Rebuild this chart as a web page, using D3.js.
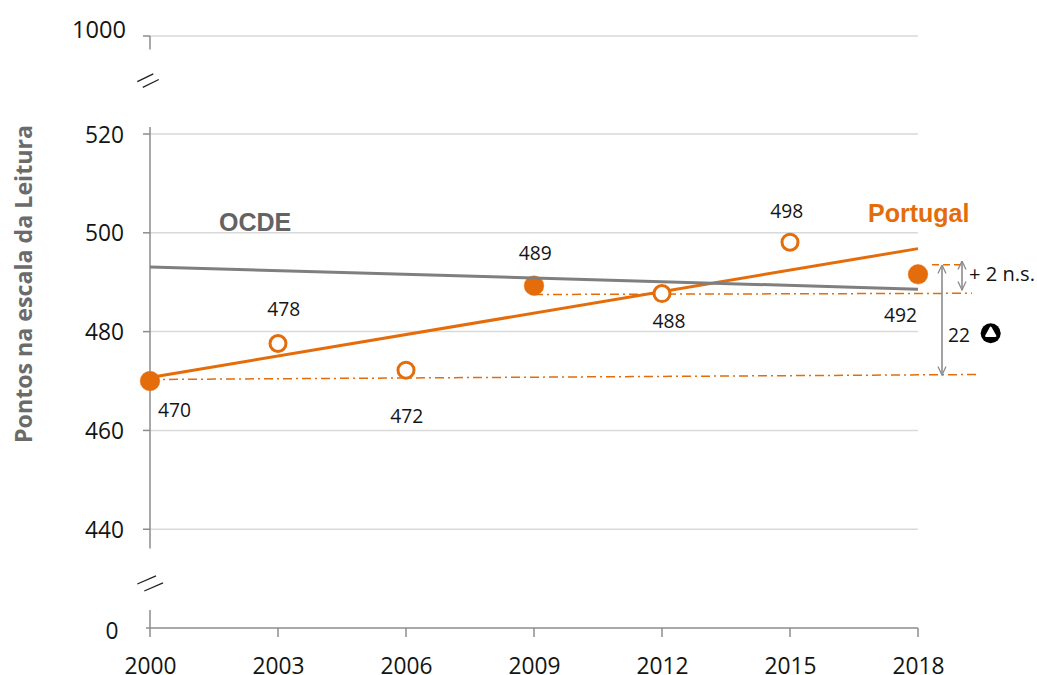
<!DOCTYPE html>
<html><head><meta charset="utf-8">
<script src="https://cdn.jsdelivr.net/npm/d3@7/dist/d3.min.js"></script>
<style>html,body{margin:0;background:#fff}svg{display:block}text{font-family:"Open Sans","Noto Sans",sans-serif;fill:#141414}</style>
</head><body><svg id="c" width="1037" height="675"></svg>
<script>
const years=[2000,2003,2006,2009,2012,2015,2018];
const portugal=[470,477.6,472.2,489.3,487.7,498.1,491.6];
const labels=["470","478","472","489","488","498","492"];
const significant=[true,false,false,true,false,false,true];
const trendYears=[2000,2018];
const portugalTrend=[470.7,496.8];
const oecdTrend=[493.1,488.6];
const yTicks=[0,440,460,480,500,520,1000];
const axisTitle="Pontos na escala da Leitura";
const diffLabels=["+ 2 n.s.","22"];
const orange="#e46c0a",gray="#7f7f7f",grid="#d9d9d9",axisC="#8c8c8c";
const svg=d3.select("#c");
const x=d3.scaleLinear().domain([2000,2018]).range([150,918]);
const y=d3.scaleLinear().domain([0,436,520,1000]).range([628,549,134,36]);
const defs=svg.append("defs");
defs.append("marker").attr("id","ah").attr("viewBox","0 0 10 10").attr("refX",9.5).attr("refY",5)
 .attr("markerWidth",10).attr("markerHeight",10).attr("markerUnits","userSpaceOnUse").attr("orient","auto-start-reverse")
 .append("path").attr("d","M1,1L9.5,5L1,9").attr("fill","none").attr("stroke","#8c8c8c").attr("stroke-width",1.3);
// grid
svg.append("g").selectAll("line").data(yTicks.filter(d=>d>0)).join("line")
 .attr("x1",150).attr("x2",918).attr("y1",d=>y(d)).attr("y2",d=>y(d)).attr("stroke",grid).attr("stroke-width",1.5);
// axis segments
const segs=[[36,49.5],[127,548.5],[610,637]];
svg.append("g").selectAll("line").data(segs).join("line").attr("x1",150).attr("x2",150)
 .attr("y1",d=>d[0]).attr("y2",d=>d[1]).attr("stroke",axisC).attr("stroke-width",1.5);
svg.append("g").selectAll("line").data(yTicks.filter(d=>d>0)).join("line")
 .attr("x1",143).attr("x2",150).attr("y1",d=>y(d)).attr("y2",d=>y(d)).attr("stroke",axisC).attr("stroke-width",1.5);
svg.append("line").attr("x1",146).attr("x2",918).attr("y1",y(0)).attr("y2",y(0)).attr("stroke",axisC).attr("stroke-width",1.5);
svg.append("g").selectAll("line").data(years.slice(1)).join("line").attr("x1",d=>x(d)).attr("x2",d=>x(d))
 .attr("y1",y(0)).attr("y2",637).attr("stroke",axisC).attr("stroke-width",1.5);
// tick labels
svg.append("g").selectAll("text").data(yTicks).join("text")
 .attr("x",d=>d===0?118.5:(d===1000?126:124)).attr("y",d=>y(d)+(d===1000?2:(d===0?10.5:8.5))).attr("text-anchor","end")
 .attr("font-size",24).attr("textLength",d=>d===1000?54:(d===0?13:39)).attr("lengthAdjust","spacingAndGlyphs").text(d=>d);
svg.append("g").selectAll("text").data(years).join("text").attr("x",d=>x(d)+0.5).attr("y",674)
 .attr("text-anchor","middle").attr("font-size",24).attr("textLength",52).attr("lengthAdjust","spacingAndGlyphs").text(d=>d);
// axis breaks
[[137.3,81.7,5.5,5.6,16,-7.8],[137.3,584,7,7,18.7,-8.2]].forEach(([a,b,ox,oy,dx,dy])=>{[0,1].forEach(k=>svg.append("line")
 .attr("x1",a+k*ox).attr("y1",b+k*oy).attr("x2",a+k*ox+dx).attr("y2",b+k*oy+dy).attr("stroke","#222").attr("stroke-width",1.3));});
// title
svg.append("text").attr("transform","translate(32,284) rotate(-90)").attr("text-anchor","middle")
 .attr("font-size",23).attr("font-weight",700).style("fill","#6b6b6b").attr("textLength",318).attr("lengthAdjust","spacingAndGlyphs").text(axisTitle);
// reference lines
svg.append("line").attr("x1",x(2009)).attr("y1",294.5).attr("x2",972).attr("y2",293.3).attr("stroke",orange).attr("stroke-width",1.5).attr("stroke-dasharray","9 4 2 4");
svg.append("line").attr("x1",x(2000)).attr("y1",379.5).attr("x2",980).attr("y2",374.5).attr("stroke",orange).attr("stroke-width",1.5).attr("stroke-dasharray","9 4 2 4");
svg.append("line").attr("x1",932).attr("y1",264.7).attr("x2",963).attr("y2",264.7).attr("stroke",orange).attr("stroke-width",1.5).attr("stroke-dasharray","7 4");
// trend + points
const line=d3.line().x(d=>x(d[0])).y(d=>y(d[1]));
svg.append("path").attr("d",line(d3.zip(trendYears,portugalTrend))).attr("fill","none").attr("stroke",orange).attr("stroke-width",3);
const pts=d3.zip(years,portugal,significant,labels);
svg.append("g").selectAll("circle").data(pts).join("circle").attr("cx",d=>x(d[0])).attr("cy",d=>y(d[1]))
 .attr("r",d=>d[2]?9.8:8).attr("fill",d=>d[2]?orange:"#fff").attr("stroke",orange).attr("stroke-width",d=>d[2]?0.5:3);
svg.append("path").attr("d",line(d3.zip(trendYears,oecdTrend))).attr("fill","none").attr("stroke",gray).attr("stroke-width",3);
// data labels
const off=[[24.5,36],[5.7,-27],[0.7,52.5],[1.3,-25.7],[7,34],[-3.3,-24],[-17.5,47.7]];
svg.append("g").selectAll("text").data(pts).join("text")
 .attr("x",(d,i)=>x(d[0])+off[i][0]).attr("y",(d,i)=>y(d[1])+off[i][1]).attr("text-anchor","middle")
 .attr("font-size",20.5).attr("textLength",33).attr("lengthAdjust","spacingAndGlyphs").text(d=>d[3]);
// arrows
[[942,265,375],[962,261,290]].forEach(([a,b,c])=>svg.append("line").attr("x1",a).attr("x2",a).attr("y1",b).attr("y2",c)
 .attr("stroke","#8c8c8c").attr("stroke-width",1.6).attr("marker-start","url(#ah)").attr("marker-end","url(#ah)"));
svg.append("text").attr("x",969).attr("y",281).attr("font-size",20).attr("textLength",66).attr("lengthAdjust","spacingAndGlyphs").text(diffLabels[0]);
svg.append("text").attr("x",948).attr("y",342).attr("font-size",20.5).attr("textLength",22).attr("lengthAdjust","spacingAndGlyphs").text(diffLabels[1]);
// significance marker
svg.append("circle").attr("cx",990.7).attr("cy",333.3).attr("r",10).attr("fill","#000");
svg.append("path").attr("d","M990.7,327.5L995.5,336L986,336Z").attr("fill","#fff").attr("stroke","#fff").attr("stroke-width",1.8).attr("stroke-linejoin","round");
// series names
svg.append("text").attr("x",219).attr("y",231).attr("font-size",25).attr("font-weight",700).style("fill","#636363").style("font-family","'Liberation Sans'").text("OCDE");
svg.append("text").attr("x",868).attr("y",222).attr("font-size",25).attr("font-weight",700).style("fill",orange).style("font-family","'Liberation Sans'").text("Portugal");
</script></body></html>
